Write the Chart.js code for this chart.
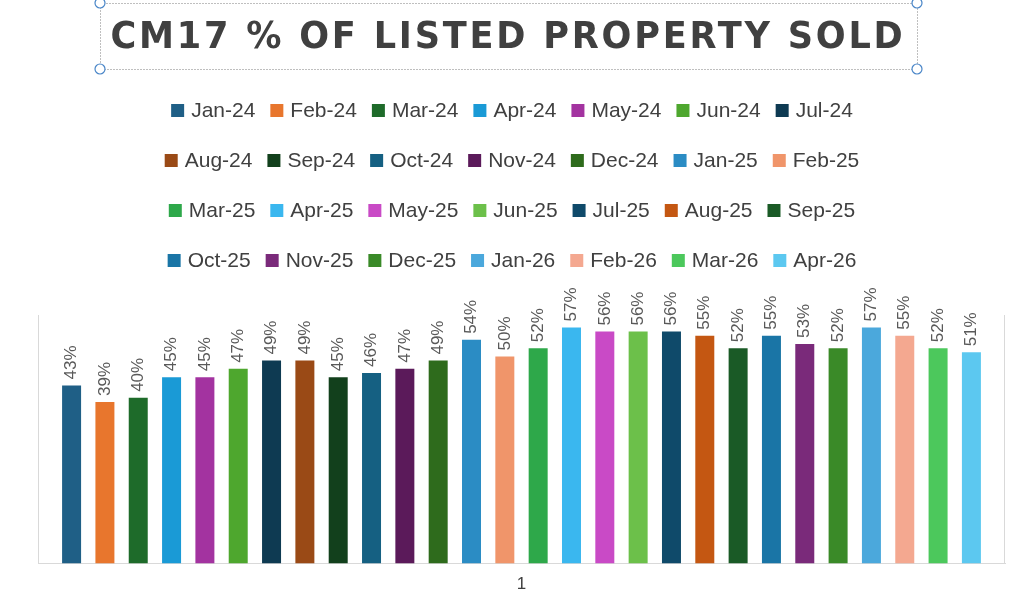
<!DOCTYPE html>
<html><head><meta charset="utf-8">
<script src="https://cdn.jsdelivr.net/npm/chart.js@4"></script>
<style>html,body{margin:0;padding:0;background:#fff}#w{width:1024px;height:614px}</style>
</head><body><div id="w"><canvas id="c"></canvas></div>
<script>
const categories = ["1"];
const months = ["Jan-24","Feb-24","Mar-24","Apr-24","May-24","Jun-24","Jul-24","Aug-24","Sep-24","Oct-24","Nov-24","Dec-24","Jan-25","Feb-25","Mar-25","Apr-25","May-25","Jun-25","Jul-25","Aug-25","Sep-25","Oct-25","Nov-25","Dec-25","Jan-26","Feb-26","Mar-26","Apr-26"];
const values = [43,39,40,45,45,47,49,49,45,46,47,49,54,50,52,57,56,56,56,55,52,55,53,52,57,55,52,51];
const colors = ["#1f5f86","#e8762d","#1e6b2a","#1a9ad6","#a333a0","#4ea72e","#0e3a52","#9a4a16","#12401c","#156082","#5b1a5a","#2e6b1c","#2b8cc4","#f0956a","#2ea84a","#3ab7ef","#c94ac6","#6cc04a","#0f4a6a","#c45712","#1a5a26","#1a75a6","#7a2a7a","#3a8a28","#4ba8dc","#f4a890","#4cc85c","#5cc8f0"];
const titleText = "CM17 % OF LISTED PROPERTY SOLD";

const decor = {
  id:'decor',
  afterDraw(chart){
    const ctx = chart.ctx, a = chart.chartArea;
    ctx.save();
    ctx.strokeStyle = '#d9d9d9'; ctx.lineWidth = 1;
    ctx.beginPath(); ctx.moveTo(a.left+0.5,a.top); ctx.lineTo(a.left+0.5,a.bottom);
    ctx.moveTo(a.right-0.5,a.top); ctx.lineTo(a.right-0.5,a.bottom); ctx.stroke();
    // data labels
    ctx.fillStyle = '#595959'; ctx.font = '17px "Liberation Sans", Arial, sans-serif';
    ctx.textAlign = 'left'; ctx.textBaseline = 'middle';
    chart.data.datasets.forEach((ds,i)=>{
      const el = chart.getDatasetMeta(i).data[0];
      ctx.save(); ctx.translate(el.x, el.y - 6); ctx.rotate(-Math.PI/2);
      ctx.fillText(ds.data[0] + '%', 0, 0); ctx.restore();
    });
    // legend (7 per row)
    ctx.font = '21px "Liberation Sans", Arial, sans-serif';
    ctx.textAlign = 'left'; ctx.textBaseline = 'middle';
    const perRow = 7, gap = 15, box = 13, tg = 7;
    for (let r = 0; r < 4; r++) {
      const items = chart.data.datasets.slice(r*perRow, r*perRow+perRow);
      const ws = items.map(d => box + tg + ctx.measureText(d.label).width);
      const total = ws.reduce((s,w)=>s+w,0) + gap*(items.length-1);
      let x = 512 - total/2; const y = 110 + r*50;
      items.forEach((d,k)=>{
        ctx.fillStyle = d.backgroundColor; ctx.fillRect(x, y-6, box, box);
        ctx.fillStyle = '#404040'; ctx.fillText(d.label, x+box+tg, y+1);
        x += ws[k] + gap;
      });
    }
    // title
    ctx.fillStyle = '#404040';
    ctx.font = 'bold 38px "DejaVu Sans", sans-serif';
    ctx.textAlign = 'center'; ctx.textBaseline = 'middle';
    if ('letterSpacing' in ctx) ctx.letterSpacing = '3px';
    ctx.fillText(titleText, 508, 38, 795);
    if ('letterSpacing' in ctx) ctx.letterSpacing = '0px';
    ctx.setLineDash([1,2]); ctx.strokeStyle = '#7f7f7f'; ctx.lineWidth = 1;
    ctx.strokeRect(100.5, 3.5, 817, 66);
    ctx.setLineDash([]);
    ctx.strokeStyle = '#4a86c8'; ctx.fillStyle = '#fff'; ctx.lineWidth = 1.2;
    [[100,3],[917,3],[100,69],[917,69]].forEach(p=>{ctx.beginPath();ctx.arc(p[0],p[1],5,0,Math.PI*2);ctx.fill();ctx.stroke();});
    ctx.restore();
  }
};

new Chart(document.getElementById('c'), {
  type:'bar',
  data:{ labels: categories,
    datasets: months.map((m,i)=>({label:m, data:[values[i]], backgroundColor:colors[i], barPercentage:0.57, categoryPercentage:0.965})) },
  options:{
    responsive:true, maintainAspectRatio:false, animation:false,
    layout:{padding:{top:315,left:38,right:19,bottom:16}},
    plugins:{ legend:{display:false}, tooltip:{enabled:false} },
    scales:{
      x:{grid:{display:false}, border:{color:'#d9d9d9'}, ticks:{color:'#404040', font:{size:17}}},
      y:{display:false, min:0, max:60}
    }
  },
  plugins:[decor]
});
</script></body></html>
